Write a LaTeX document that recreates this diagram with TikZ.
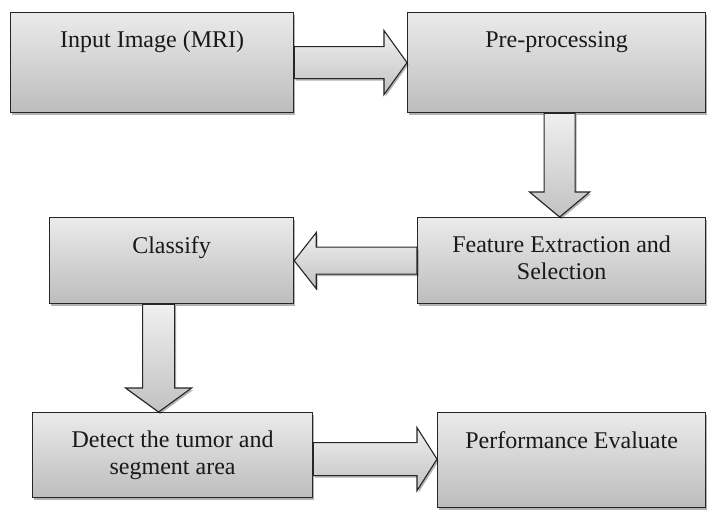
\documentclass[tikz,border=0pt]{standalone}
\usepackage{fontspec}
\setmainfont{Liberation Serif}
\usepackage{tikz}
\usetikzlibrary{positioning, shadows, calc}
\usepackage{xcolor}

\tikzset{
	stagebox/.style={rectangle, draw=black!85, line width=1.2pt, top color=gray!16, bottom color=gray!52, anchor=north west, inner sep=0pt,
		drop shadow={shadow xshift=1.5pt, shadow yshift=-2pt, fill=black, opacity=0.3}},
	stagetext/.style={inner sep=0pt, align=center, text=black!90, font=\fontsize{24}{27}\selectfont},
	blockarrow/.style={draw=black!85, line width=1.1pt, top color=gray!12, bottom color=gray!48, line join=miter,
		drop shadow={shadow xshift=1.5pt, shadow yshift=-2pt, fill=black, opacity=0.3}}
}

\begin{document}
\begin{tikzpicture}[x=1pt, y=-1pt]
		\fill[white] (0,0) rectangle (708,509);
		\useasboundingbox (0,0) rectangle (708,509);

		\node (input)[stagebox, minimum width=283pt, minimum height=100pt] at (10,12) {};
		\node (preproc)[stagebox, minimum width=298pt, minimum height=100pt] at (407,12) {};
		\node (feature)[stagebox, minimum width=288pt, minimum height=86pt] at (417,217) {};
		\node (classify)[stagebox, minimum width=244pt, minimum height=86pt] at (49,217) {};
		\node (detect)[stagebox, minimum width=280pt, minimum height=85pt] at (32,412) {};
		\node (perform)[stagebox, minimum width=268pt, minimum height=95pt] at (437,412) {};

		\node (inputText)[stagetext, below=19pt of input.north] {Input Image (MRI)};
		\node (preprocText)[stagetext, below=19pt of preproc.north] {Pre-processing};
		\node (featureText)[stagetext, below=19pt of feature.north] {Feature Extraction and\\Selection};
		\node (classifyText)[stagetext, below=19pt of classify.north] {Classify};
		\node (detectText)[stagetext, below=19pt of detect.north] {Detect the tumor and\\segment area};
		\node (performText)[stagetext, below=19pt of perform.north] {Performance Evaluate};

		\draw[blockarrow] ($(input.east)+(0,-16)$) -- ($(preproc.west)+(-23,-16)$) -- ($(preproc.west)+(-23,-32)$) -- (preproc.west) -- ($(preproc.west)+(-23,32)$) -- ($(preproc.west)+(-23,16)$) -- ($(input.east)+(0,16)$) -- cycle;
		\draw[blockarrow] ($(preproc.south -| feature.north)+(-17.5,0)$) -- ($(feature.north)+(-17.5,-25)$) -- ($(feature.north)+(-32,-25)$) -- ($(feature.north)+(-2,0)$) -- ($(feature.north)+(28,-25)$) -- ($(feature.north)+(13.5,-25)$) -- ($(preproc.south -| feature.north)+(13.5,0)$) -- cycle;
		\draw[blockarrow] ($(feature.west)+(0,-13.5)$) -- ($(classify.east)+(22,-13.5)$) -- ($(classify.east)+(22,-28)$) -- (classify.east) -- ($(classify.east)+(22,28)$) -- ($(classify.east)+(22,13.5)$) -- ($(feature.west)+(0,13.5)$) -- cycle;
		\draw[blockarrow] ($(classify.south -| detect.north)+(-30,0)$) -- ($(detect.north)+(-30,-24)$) -- ($(detect.north)+(-47,-24)$) -- ($(detect.north)+(-14,0)$) -- ($(detect.north)+(19,-24)$) -- ($(detect.north)+(2,-24)$) -- ($(classify.south -| detect.north)+(2,0)$) -- cycle;
		\draw[blockarrow] ($(detect.east |- perform.west)+(0,-17.5)$) -- ($(perform.west)+(-20,-17.5)$) -- ($(perform.west)+(-20,-32.5)$) -- ($(perform.west)+(0,-1)$) -- ($(perform.west)+(-20,30.5)$) -- ($(perform.west)+(-20,15.5)$) -- ($(detect.east |- perform.west)+(0,15.5)$) -- cycle;
	\end{tikzpicture}
\end{document}
